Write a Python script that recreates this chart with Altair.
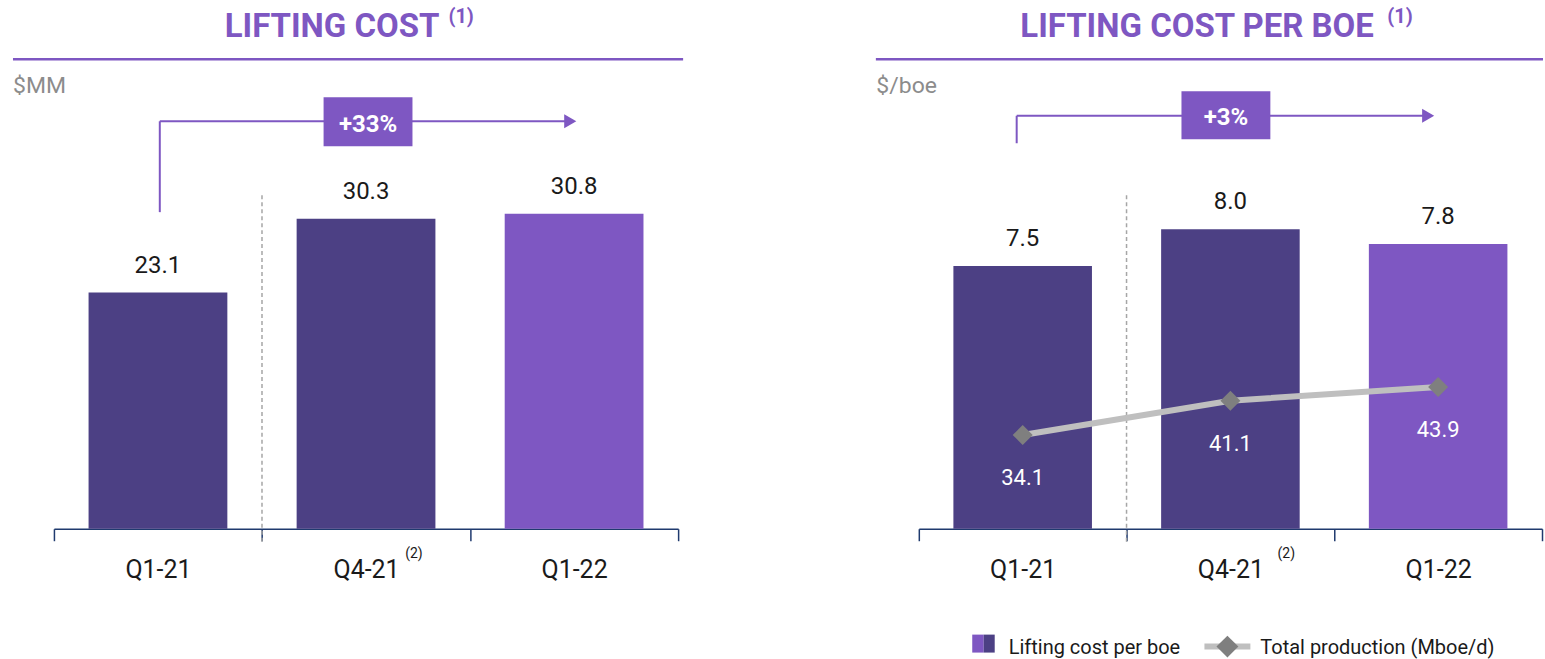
import altair as alt
import pandas as pd

# ---------------- data ----------------
categories = ["Q1-21", "Q4-21", "Q1-22"]
lifting_cost = [23.1, 30.3, 30.8]          # $MM
cost_per_boe = [7.5, 8.0, 7.8]             # $/boe
production = [34.1, 41.1, 43.9]            # Mboe/d

left_title = "LIFTING COST"
right_title = "LIFTING COST PER BOE"
title_note = "(1)"
q4_note = "(2)"
left_unit = "$MM"
right_unit = "$/boe"
left_change = "+33%"
right_change = "+3%"
legend_labels = ["Lifting cost per boe", "Total production (Mboe/d)"]

# ---------------- style ----------------
DARK = "#4C4084"
LIGHT = "#7E57C2"
PURPLE = "#7E57C2"
NAVY = "#1F3A6E"
TXT = "#1A1A1A"
GRAY_TXT = "#8C8C8C"
LINE_GRAY = "#BFBFBF"
DIAMOND = "#7F7F7F"
DASH = "#A6A6A6"
FONT = "Roboto"

W_L, W_R, H = 625, 624, 469

left_df = pd.DataFrame({"cat": categories, "value": lifting_cost, "idx": list(range(len(categories)))})
right_df = pd.DataFrame({"cat": categories, "value": cost_per_boe, "prod": production,
                         "idx": list(range(len(categories)))})
one = pd.DataFrame({"k": [0]})

axis_x = alt.Axis(title=None, labelAngle=0, tickBand="extent", domainColor=NAVY, domainWidth=1.5,
                  tickColor=NAVY, tickWidth=1.5, tickSize=12, labelFont=FONT, labelFontSize=25,
                  labelColor=TXT, labelPadding=17, grid=False)


def xscale():
    return alt.Scale(domain=categories, paddingInner=0, paddingOuter=0)


def xenc(**kw):
    return alt.X("cat:N", sort=categories, scale=xscale(), axis=axis_x, **kw)


color_enc = alt.Color("cat:N", scale=alt.Scale(domain=categories, range=[DARK, DARK, LIGHT]), legend=None)


def text_mark(txt, x, y, size, color, bold=False, align="left"):
    return alt.Chart(one).mark_text(text=txt, font=FONT, fontSize=size,
                                    fontWeight="bold" if bold else "normal", color=color,
                                    align=align, baseline="alphabetic").encode(
        x=alt.value(x), y=alt.value(y))


def rule(x, x2, y, y2, color, width, opacity=1):
    return alt.Chart(one).mark_rule(color=color, strokeWidth=width, opacity=opacity).encode(
        x=alt.value(x), x2=alt.value(x2), y=alt.value(y), y2=alt.value(y2))


def rect(x, x2, y, y2, color):
    return alt.Chart(one).mark_rect(color=color).encode(
        x=alt.value(x), x2=alt.value(x2), y=alt.value(y), y2=alt.value(y2))


def arrow_head(x, y):
    return alt.Chart(one).mark_point(shape="triangle-right", filled=True, size=196, color=PURPLE,
                                     opacity=1).encode(x=alt.value(x), y=alt.value(y))


def dash_rule(df):
    return alt.Chart(df).transform_filter(alt.datum.cat == categories[1]).mark_rule(
        color=DASH, strokeWidth=1.5, strokeDash=[4, 3]).encode(
        x=xenc(bandPosition=0), y=alt.value(135), y2=alt.value(485))


def note_mark(df, dx):
    return alt.Chart(df).transform_filter(alt.datum.cat == categories[1]).mark_text(
        text=q4_note, font=FONT, fontSize=14, color=TXT, baseline="alphabetic", dx=dx).encode(
        x=xenc(), y=alt.value(498))


# ---------------- left panel ----------------
ly = alt.Scale(domain=[0, 45.8], nice=False, zero=False)
left_bars = alt.Chart(left_df).mark_bar(width=alt.RelativeBandSize(0.667)).encode(
    x=xenc(), y=alt.Y("value:Q", scale=ly, axis=None), color=color_enc)
left_vals = alt.Chart(left_df).mark_text(font=FONT, fontSize=24, color=TXT, baseline="alphabetic",
                                         dy=-20).encode(
    x=xenc(), y=alt.Y("value:Q", scale=ly, axis=None), text=alt.Text("value:Q", format=".1f"))

left = alt.layer(
    rule(-54, -53, -60, -59, "#ffffff", 0, opacity=0),
    left_bars, left_vals, dash_rule(left_df), note_mark(left_df, 48),
    text_mark(left_title, 386, -23, 33, PURPLE, bold=True, align="right"),
    text_mark(title_note, 395, -37, 20, PURPLE, bold=True),
    rule(-41, 630, -1, -1, PURPLE, 2.5),
    text_mark(left_unit, -41, 33, 23, GRAY_TXT),
    rule(106, 106, 61, 152, PURPLE, 2),
    rule(106, 512, 61, 61, PURPLE, 2),
    arrow_head(517, 61),
    rect(270, 359, 37, 86, PURPLE),
    text_mark(left_change, 314.5, 72, 24, "#FFFFFF", bold=True, align="center"),
).properties(width=W_L, height=H)

# ---------------- right panel ----------------
ry = alt.Scale(domain=[3.946, 10.284], nice=False, zero=False)
py = alt.Scale(domain=[14.93, 110.68], nice=False, zero=False)

right_bars = alt.Chart(right_df).mark_bar(width=alt.RelativeBandSize(0.667), clip=True).encode(
    x=xenc(), y=alt.Y("value:Q", scale=ry, axis=None), color=color_enc)
right_vals = alt.Chart(right_df).mark_text(font=FONT, fontSize=24, color=TXT, baseline="alphabetic",
                                           dy=-20).encode(
    x=xenc(), y=alt.Y("value:Q", scale=ry, axis=None), text=alt.Text("value:Q", format=".1f"))
prod_line = alt.Chart(right_df).mark_line(color=LINE_GRAY, strokeWidth=6).encode(
    x=xenc(), y=alt.Y("prod:Q", scale=py, axis=None), order="idx:Q")
prod_pts = alt.Chart(right_df).mark_point(shape="diamond", filled=True, size=400, color=DIAMOND,
                                          opacity=1).encode(
    x=xenc(), y=alt.Y("prod:Q", scale=py, axis=None))
prod_vals = alt.Chart(right_df).mark_text(font=FONT, fontSize=22, color="#FFFFFF", baseline="alphabetic",
                                          dy=50).encode(
    x=xenc(), y=alt.Y("prod:Q", scale=py, axis=None), text=alt.Text("prod:Q", format=".1f"))

right = alt.layer(
    right_bars, right_vals, dash_rule(right_df), note_mark(right_df, 56),
    prod_line, prod_pts, prod_vals,
    text_mark(right_title, 455.5, -23, 33, PURPLE, bold=True, align="right"),
    text_mark(title_note, 469, -37, 20, PURPLE, bold=True),
    rule(-43, 625, -1, -1, PURPLE, 2.5),
    text_mark(right_unit, -42.5, 33, 23, GRAY_TXT),
    rule(98, 98, 55.5, 83, PURPLE, 2),
    rule(98, 505, 55.5, 55.5, PURPLE, 2),
    arrow_head(510, 55.5),
    rect(263, 352, 31, 79, PURPLE),
    text_mark(right_change, 307.5, 65, 24, "#FFFFFF", bold=True, align="center"),
    # legend
    rect(53.5, 65, 575, 593, LIGHT),
    rect(65, 76, 575, 593, DARK),
    text_mark(legend_labels[0], 90, 594, 20, TXT),
    rule(286, 332, 587, 587, LINE_GRAY, 6),
    alt.Chart(one).mark_point(shape="diamond", filled=True, size=480, color=DIAMOND, opacity=1).encode(
        x=alt.value(309), y=alt.value(587)),
    text_mark(legend_labels[1], 342, 594, 20, TXT),
    rule(624, 625, 598, 599, "#ffffff", 0, opacity=0),
).resolve_scale(y="independent").properties(width=W_R, height=H)

chart = alt.hconcat(left, right, spacing=241, bounds="flush").properties(
    padding=0, background="white"
).configure_view(stroke=None)

chart.save("out.html", embed_options={"renderer": "svg", "actions": False})
